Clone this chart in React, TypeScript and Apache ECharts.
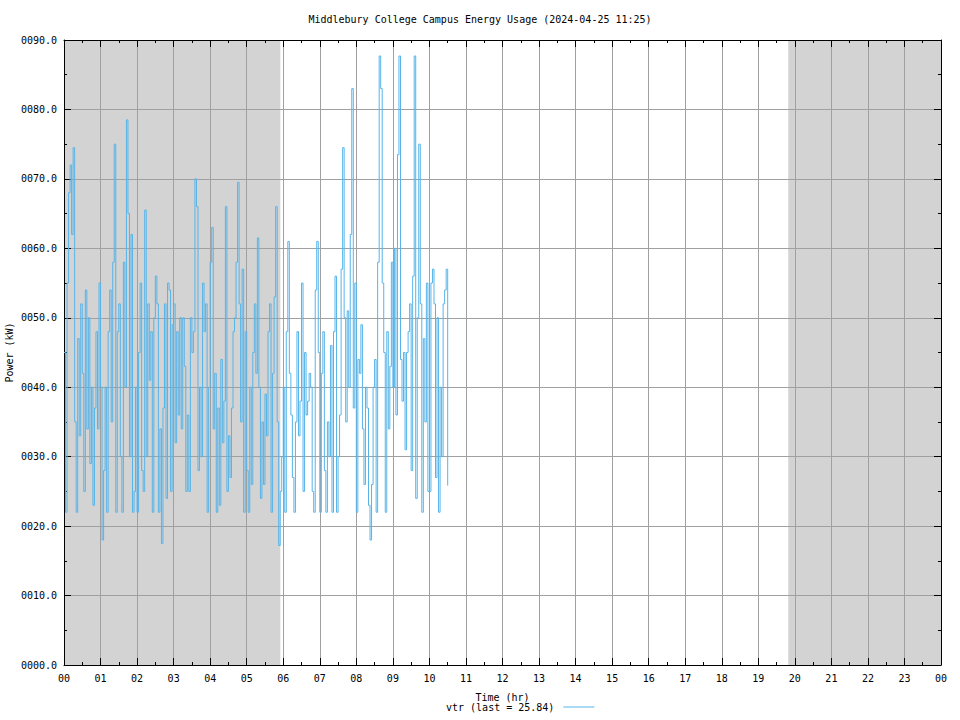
import React, { useEffect, useRef } from 'react';
import * as echarts from 'echarts';

const TITLE = 'Middlebury College Campus Energy Usage (2024-04-25 11:25)';
const SERIES_NAME = 'vtr';
const SAMPLE_MINUTES = 2.5;

// Power (kW), one list per hour, samples every 2.5 minutes
const HOUR_00 = [45, 22, 55, 68, 72, 62, 74.5, 35, 22, 47, 33, 52, 42, 25, 54, 34, 50, 29, 40, 23, 37, 48, 34, 55];
const HOUR_01 = [40, 18, 28, 40, 22, 48, 54, 35, 58, 75, 22, 48, 52, 30, 22, 58, 40, 78.5, 65, 30, 62, 22, 25, 40];
const HOUR_02 = [22, 45, 55, 28, 25, 65.5, 30, 52, 41, 48, 22, 50, 56, 52, 22, 34, 17.5, 37, 52, 24, 55, 54, 25, 49];
const HOUR_03 = [52, 32, 48, 36, 50, 34, 50, 43, 25, 36, 25, 50, 45, 48, 70, 66, 28, 40, 30, 55, 48, 52, 22, 40];
const HOUR_04 = [58, 63, 34, 42, 22, 37, 23, 44, 32, 38, 66, 25, 33, 27, 37, 48, 50, 58, 69.5, 52, 35, 57, 22, 48];
const HOUR_05 = [28, 22, 40, 26, 45, 52, 42, 61.5, 40, 24, 35, 26, 39, 33, 48, 52, 22, 42, 53, 66, 35, 17.2, 25, 30];
const HOUR_06 = [40, 22, 48, 61, 42, 36, 27, 22, 35, 48, 33, 38, 55, 25, 45, 36, 38, 42, 40, 25, 22, 54, 61, 45];
const HOUR_07 = [22, 42, 48, 28, 22, 35, 30, 46, 22, 48, 56, 22, 30, 36, 57, 74.5, 50, 35, 51, 40, 62, 83, 37, 55];
const HOUR_08 = [22, 44, 42, 49, 34, 26, 40, 37, 23, 18, 26, 40, 44, 22, 58, 87.7, 83, 55, 45, 22, 48, 34, 43, 58];
const HOUR_09 = [40, 60, 36, 73.5, 87.7, 44, 38, 45, 31, 45, 48, 52, 28, 56, 87.7, 24, 50, 75, 52, 22, 47, 35, 55, 25];
const HOUR_10 = [25, 55, 57, 52, 27, 50, 22, 40, 30, 52, 54, 57, 25.84];

const HOURLY = [HOUR_00, HOUR_01, HOUR_02, HOUR_03, HOUR_04, HOUR_05, HOUR_06, HOUR_07, HOUR_08, HOUR_09, HOUR_10];

// Night (shaded) bands, in hours
const NIGHT_BANDS = [
  [0, 5.92],
  [19.82, 24],
];

const X_MIN = 0;
const X_MAX = 24;
const Y_MIN = 0;
const Y_MAX = 90;

const FONT = "'DejaVu Sans Mono', 'Liberation Mono', monospace";

export default function App() {
  const ref = useRef<HTMLDivElement>(null);

  useEffect(() => {
    if (!ref.current) return;
    const chart = echarts.init(ref.current, undefined, { renderer: 'svg' });

    const values: number[] = ([] as number[]).concat(...HOURLY);
    const data = values.map((v, i) => [(i * SAMPLE_MINUTES) / 60, v]);
    const last = values[values.length - 1];

    const textStyle = { fontFamily: FONT, fontSize: 10, color: '#000' };
    const tickLine = { color: '#000', width: 1 };

    const option: any = {
      animation: false,
      backgroundColor: '#ffffff',
      title: {
        text: TITLE,
        left: 'center',
        top: 9,
        textStyle: { ...textStyle, fontWeight: 'normal' },
      },
      grid: { left: 64, right: 19, top: 40, bottom: 55, show: false, containLabel: false, outerBoundsMode: 'none' },
      legend: {
        data: [SERIES_NAME],
        left: 441,
        top: 697,
        align: 'right',
        icon: 'rect',
        itemWidth: 31,
        itemHeight: 1,
        formatter: () => `${SERIES_NAME} (last = ${last.toFixed(2)})`,
        textStyle: { ...textStyle, padding: [0, 4, 0, 0] },
      },
      xAxis: [
        {
          type: 'value',
          min: X_MIN,
          max: X_MAX,
          interval: 1,
          position: 'bottom',
          name: 'Time (hr)',
          nameLocation: 'middle',
          nameGap: 27,
          nameMoveOverlap: false,
          nameTextStyle: textStyle,
          axisLine: { show: true, onZero: false, lineStyle: tickLine },
          axisTick: { show: true, inside: true, length: 7, lineStyle: tickLine },
          minorTick: { show: true, splitNumber: 2, length: 3, lineStyle: tickLine },
          splitLine: { show: true, lineStyle: { color: '#a0a0a0', width: 1 } },
          axisLabel: {
            ...textStyle,
            margin: 8,
            formatter: (v: number) => String(Math.round(v) % 24).padStart(2, '0'),
          },
        },
        {
          type: 'value',
          min: X_MIN,
          max: X_MAX,
          interval: 1,
          position: 'top',
          axisLine: { show: true, onZero: false, lineStyle: tickLine },
          axisTick: { show: true, inside: true, length: 7, lineStyle: tickLine },
          minorTick: { show: true, splitNumber: 2, length: 3, lineStyle: tickLine },
          splitLine: { show: false },
          axisLabel: { show: false },
        },
      ],
      yAxis: [
        {
          type: 'value',
          min: Y_MIN,
          max: Y_MAX,
          interval: 10,
          position: 'left',
          name: 'Power (kW)',
          nameLocation: 'middle',
          nameGap: 50,
          nameRotate: 90,
          nameMoveOverlap: false,
          nameTextStyle: textStyle,
          axisLine: { show: true, onZero: false, lineStyle: tickLine },
          axisTick: { show: true, inside: true, length: 7, lineStyle: tickLine },
          minorTick: { show: true, splitNumber: 2, length: 3, lineStyle: tickLine },
          splitLine: { show: true, lineStyle: { color: '#a0a0a0', width: 1 } },
          axisLabel: {
            ...textStyle,
            margin: 7,
            formatter: (v: number) => String(Math.round(v)).padStart(4, '0') + '.0',
          },
        },
        {
          type: 'value',
          min: Y_MIN,
          max: Y_MAX,
          interval: 10,
          position: 'right',
          axisLine: { show: true, onZero: false, lineStyle: tickLine },
          axisTick: { show: true, inside: true, length: 7, lineStyle: tickLine },
          minorTick: { show: true, splitNumber: 2, length: 3, lineStyle: tickLine },
          splitLine: { show: false },
          axisLabel: { show: false },
        },
      ],
      series: [
        {
          type: 'custom',
          name: 'night',
          xAxisIndex: 0,
          yAxisIndex: 0,
          z: -1,
          silent: true,
          data: NIGHT_BANDS,
          encode: { x: [0, 1] },
          renderItem: (params: any, api: any) => {
            const s = api.coord([api.value(0), Y_MAX]);
            const e = api.coord([api.value(1), Y_MIN]);
            return {
              type: 'rect',
              shape: { x: s[0], y: s[1], width: e[0] - s[0], height: e[1] - s[1] },
              style: { fill: '#d3d3d3' },
            };
          },
        },
        {
          type: 'line',
          name: SERIES_NAME,
          xAxisIndex: 0,
          yAxisIndex: 0,
          data,
          step: 'end',
          showSymbol: false,
          symbol: 'none',
          lineStyle: { color: '#56b4e9', width: 1 },
          itemStyle: { color: '#56b4e9' },
          z: 3,
        },
      ],
    };

    chart.setOption(option);
    return () => chart.dispose();
  }, []);

  return (
    <div
      ref={ref}
      style={{ position: 'absolute', left: 0, top: 0, width: 960, height: 720, background: '#fff' }}
    />
  );
}
